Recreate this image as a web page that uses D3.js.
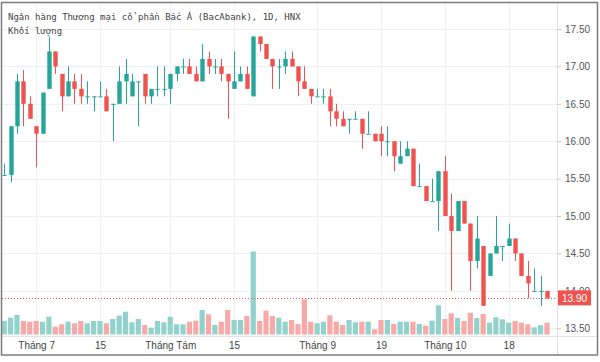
<!DOCTYPE html>
<html><head><meta charset="utf-8">
<script src="https://cdn.jsdelivr.net/npm/d3@7"></script>
<style>body{margin:0;background:#fff}svg{display:block}</style>
</head><body>
<script>
// ---- data ----
const opens  = [15.55,15.55,16.2,16.8,16.5,16.2,16.1,16.7,17.2,16.9,16.6,16.8,16.7,16.6,16.6,16.6,16.6,16.5,16.5,16.8,16.6,16.8,16.9,16.6,16.7,16.7,16.7,16.9,17.0,17.0,16.9,16.8,17.1,17.0,17.0,16.9,16.7,16.8,16.9,16.6,17.4,17.3,17.1,17.0,17.0,17.1,17.0,16.8,16.7,16.6,16.6,16.6,16.4,16.3,16.3,16.3,16.3,16.1,16.1,16.1,16.0,16.0,15.7,15.8,15.9,15.4,15.4,15.2,15.2,15.6,15.0,14.8,15.2,14.9,14.4,14.6,14.2,14.5,14.6,14.6,14.7,14.5,14.2,14.0,14.0,14.0];
const highs  = [15.7,16.2,16.9,16.95,16.6,16.2,16.65,17.4,17.2,16.9,17.0,16.9,16.9,16.8,16.6,16.8,16.7,16.5,17.0,17.1,16.9,16.8,16.9,16.7,17.0,17.0,16.9,17.0,17.1,17.1,17.0,17.3,17.2,17.1,17.1,16.9,17.2,17.0,17.0,17.4,17.4,17.3,17.1,17.1,17.2,17.2,17.0,17.0,16.7,16.7,16.7,16.7,16.5,16.4,16.3,16.4,16.3,16.4,16.1,16.2,16.2,16.0,16.0,16.0,15.9,15.7,15.4,15.5,15.6,15.8,15.3,15.2,15.2,14.9,15.0,14.6,14.5,15.0,14.6,14.9,14.7,14.5,14.4,14.3,14.2,14.0];
const lows   = [15.55,15.45,16.1,16.2,16.3,15.65,16.1,16.7,16.9,16.4,16.6,16.5,16.5,16.5,16.4,16.6,16.4,16.0,16.5,16.5,16.6,16.2,16.5,16.5,16.6,16.6,16.5,16.8,16.9,16.9,16.8,16.8,16.9,16.9,16.8,16.3,16.7,16.8,16.7,16.6,17.2,17.1,16.7,16.7,16.9,17.0,16.6,16.7,16.5,16.6,16.5,16.2,16.2,16.2,16.1,16.3,15.9,16.1,16.0,15.8,15.8,15.6,15.7,15.8,15.4,15.4,15.2,15.2,14.8,15.0,14.0,14.8,14.9,14.0,14.3,13.8,14.2,14.5,14.4,14.6,14.4,14.2,13.9,14.0,13.8,13.9];
const closes = [15.55,16.2,16.8,16.5,16.3,16.1,16.65,17.2,17.0,16.6,16.8,16.7,16.6,16.6,16.6,16.6,16.4,16.5,16.8,16.9,16.8,16.8,16.6,16.7,16.7,16.7,16.9,17.0,17.0,16.9,16.8,17.1,17.0,17.0,16.9,16.8,16.8,16.9,16.7,17.4,17.3,17.1,17.0,17.0,17.1,17.0,16.8,16.7,16.6,16.6,16.6,16.4,16.3,16.2,16.3,16.3,16.1,16.1,16.0,16.0,16.0,15.8,15.8,15.9,15.4,15.4,15.2,15.2,15.6,15.0,14.8,15.2,14.9,14.4,14.7,13.8,14.5,14.6,14.6,14.7,14.5,14.2,14.1,14.0,14.0,13.9];
const volumes = [135,168,195,135,128,135,128,178,78,102,128,112,135,112,135,135,112,155,188,228,122,155,95,68,135,122,178,102,102,128,138,245,202,95,128,245,145,145,185,830,135,238,185,168,128,145,105,352,128,112,128,192,128,95,145,122,128,128,52,145,145,105,128,128,128,105,88,138,292,155,212,165,135,218,165,205,118,172,152,118,135,118,102,72,92,118];
const priceTicks = [13.5,14,14.5,15,15.5,16,16.5,17,17.5];
const timeTickIndex = [5,15,26,36,49,59,69,79];
const timeTickLabels = ["Tháng 7","15","Tháng Tám","15","Tháng 9","19","Tháng 10","18"];
const titleText = "Ngân hàng Thương mại cổ phần Bắc Á (BacAbank), 1D, HNX";
const paneLabel = "Khối lượng";
const lastPrice = 13.90;

// ---- layout ----
const W = 600, H = 362;
const plotL = 2, plotR = 557, plotT = 3, plotB = 336, frameB = 355;
const UP = "#26a69a", DOWN = "#ef5350", UPV = "#92d2cc", DOWNV = "#f7a9a7";

const svg = d3.select("body").append("svg").attr("width", W).attr("height", H);

const n = closes.length;
const x = d3.scaleLinear().domain([0, n - 1]).range([4.2, 547]);
const y = d3.scaleLinear().domain([13.5, 17.5]).range([328.3, 29]);
const yv = d3.scaleLinear().domain([0, 1000]).range([334.5, 234.5]);

const data = d3.range(n).map(i => ({i, o: opens[i], h: highs[i], l: lows[i], c: closes[i], v: volumes[i], up: closes[i] >= opens[i]}));

// grid
const grid = svg.append("g");
grid.selectAll("line.h").data(priceTicks).join("line")
  .attr("x1", plotL).attr("x2", plotR)
  .attr("y1", d => Math.round(y(d)) + 0.5).attr("y2", d => Math.round(y(d)) + 0.5)
  .attr("stroke", "#eef0f4").attr("stroke-width", 1);
grid.selectAll("line.v").data(timeTickIndex).join("line")
  .attr("x1", d => Math.round(x(d)) + 0.5).attr("x2", d => Math.round(x(d)) + 0.5)
  .attr("y1", plotT).attr("y2", plotB)
  .attr("stroke", "#eef0f4").attr("stroke-width", 1);

// volume
const vw = 5.2;
svg.append("g").selectAll("rect").data(data).join("rect")
  .attr("x", d => x(d.i) - vw / 2)
  .attr("y", d => yv(d.v))
  .attr("width", vw)
  .attr("height", d => yv(0) - yv(d.v))
  .attr("fill", d => d.up ? UPV : DOWNV);

// last price dotted line
svg.append("line")
  .attr("x1", plotL).attr("x2", plotR)
  .attr("y1", Math.round(y(lastPrice)) + 0.5).attr("y2", Math.round(y(lastPrice)) + 0.5)
  .attr("stroke", DOWN).attr("stroke-width", 1).attr("stroke-dasharray", "1,2");

// candles
const cw = 4.4;
const cg = svg.append("g").selectAll("g").data(data).join("g");
cg.append("line")
  .attr("x1", d => Math.round(x(d.i)) + 0.5).attr("x2", d => Math.round(x(d.i)) + 0.5)
  .attr("y1", d => y(d.h)).attr("y2", d => y(d.l))
  .attr("stroke", d => d.up ? UP : DOWN).attr("stroke-width", 1);
cg.append("rect")
  .attr("x", d => Math.round(x(d.i)) + 0.5 - cw / 2)
  .attr("y", d => y(Math.max(d.o, d.c)))
  .attr("width", cw)
  .attr("height", d => Math.max(1, Math.abs(y(d.o) - y(d.c))))
  .attr("fill", d => d.up ? UP : DOWN);

// separators & frame
svg.append("line").attr("x1", plotR + 0.5).attr("x2", plotR + 0.5).attr("y1", plotT).attr("y2", frameB)
  .attr("stroke", "#e0e3eb");
svg.append("line").attr("x1", plotL).attr("x2", 597).attr("y1", plotB + 0.5).attr("y2", plotB + 0.5)
  .attr("stroke", "#e0e3eb");

// price axis
const pa = svg.append("g").attr("transform", `translate(${plotR},0)`)
  .call(d3.axisRight(y).tickValues(priceTicks).tickFormat(d3.format(".2f")).tickSize(4).tickPadding(4));
pa.select(".domain").remove();
pa.selectAll(".tick line").attr("stroke", "#c8cad0");
pa.selectAll(".tick text").attr("fill", "#555").style("font-family", "'Liberation Sans', Arial, sans-serif").style("font-size", "10px");

// time axis
const ta = svg.append("g").attr("transform", `translate(0,${plotB})`)
  .call(d3.axisBottom(x).tickValues(timeTickIndex).tickFormat((d, k) => timeTickLabels[k]).tickSize(0).tickPadding(6));
ta.select(".domain").remove();
ta.selectAll(".tick text").attr("fill", "#444").style("font-family", "'Liberation Sans', Arial, sans-serif").style("font-size", "10px");

// last price label
const ly = y(lastPrice);
svg.append("rect").attr("x", plotR + 1).attr("y", ly - 8).attr("width", 33).attr("height", 15).attr("fill", DOWN);
svg.append("text").attr("x", plotR + 17.5).attr("y", ly + 3.5).attr("text-anchor", "middle")
  .attr("fill", "#fff").style("font-family", "'Liberation Sans', Arial, sans-serif").style("font-size", "10px")
  .text(d3.format(".2f")(lastPrice));

// titles
svg.append("text").attr("x", 8).attr("y", 20).attr("fill", "#444")
  .style("font-family", "'DejaVu Sans Mono', monospace").style("font-size", "9px").text(titleText);
svg.append("text").attr("x", 8).attr("y", 34).attr("fill", "#444")
  .style("font-family", "'DejaVu Sans Mono', monospace").style("font-size", "9px").text(paneLabel);

// frame
svg.append("rect").attr("x", 1.5).attr("y", 2.5).attr("width", 596).attr("height", frameB - 2.5)
  .attr("fill", "none").attr("stroke", "#7c7c7c").attr("stroke-width", 1.5);
</script>
</body></html>
